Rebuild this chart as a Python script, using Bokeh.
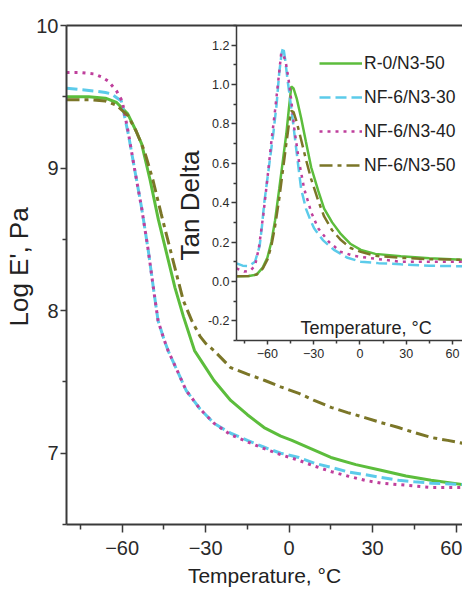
from bokeh.plotting import figure
from bokeh.models import (LinearAxis, FixedTicker, Legend, LegendItem, Label, Title,
                          NumeralTickFormatter, Range1d)
from bokeh.layouts import column
from bokeh.embed import file_html
from bokeh.resources import INLINE

# ---------------- data: main plot (Log E') ----------------
r0_T = [-80, -72, -66, -62, -58, -55, -53, -50, -47, -44, -41, -38, -34, -30, -27, -21,
        -15, -9, -3, 1, 8, 15, 24, 33, 42, 51, 62.3]
r0_E = [9.50, 9.50, 9.49, 9.46, 9.38, 9.26, 9.17, 8.92, 8.64, 8.40, 8.16, 7.96, 7.72, 7.60,
        7.51, 7.37, 7.27, 7.18, 7.12, 7.09, 7.03, 6.97, 6.92, 6.88, 6.84, 6.81, 6.78]

n30_T = [-80, -75, -70, -66, -63.9, -60.3, -57.8, -55.6, -53, -50.6, -48.5, -47.1, -45, -43.5,
         -40, -37, -32, -27, -21, -15, -8.7, -3, 3.5, 9, 15.3, 21, 27.2, 33, 39.3, 45, 51.1, 62.3]
n30_E = [9.56, 9.55, 9.54, 9.53, 9.52, 9.47, 9.24, 9.00, 8.72, 8.42, 8.12, 7.93, 7.80, 7.72,
         7.57, 7.44, 7.31, 7.21, 7.14, 7.09, 7.04, 7.00, 6.97, 6.93, 6.90, 6.87, 6.85, 6.83,
         6.81, 6.80, 6.79, 6.78]

n40_T = [-80, -75, -70, -67.5, -65, -62, -60, -57.8, -55.6, -53, -50.6, -48.5, -47.1, -45,
         -43.5, -40, -37, -32, -27, -21, -15, -8.7, -3, 3.5, 9, 15.3, 21, 27.2, 33, 39.3, 45,
         51.1, 62.3]
n40_E = [9.67, 9.67, 9.66, 9.64, 9.61, 9.54, 9.47, 9.25, 9.00, 8.72, 8.42, 8.12, 7.93, 7.80,
         7.72, 7.57, 7.44, 7.31, 7.21, 7.13, 7.08, 7.03, 6.99, 6.95, 6.91, 6.87, 6.84, 6.81,
         6.79, 6.78, 6.77, 6.76, 6.76]

n50_T = [-80, -72, -66, -62, -58, -55, -52, -49, -46, -43, -40, -38, -35, -32, -30, -27, -21,
         -15, -8.7, -3, 3.5, 9, 15.3, 21, 27.2, 33, 39.3, 45, 51.1, 57, 62.3]
n50_E = [9.48, 9.48, 9.47, 9.44, 9.37, 9.26, 9.12, 8.92, 8.68, 8.45, 8.22, 8.07, 7.93, 7.82,
         7.77, 7.72, 7.60, 7.555, 7.51, 7.465, 7.42, 7.37, 7.32, 7.285, 7.25, 7.215, 7.18,
         7.145, 7.11, 7.09, 7.07]

# ---------------- data: inset (Tan Delta) ----------------
r0_tT = [-80, -72, -67, -63, -60, -57.4, -55, -52.3, -50, -47.7, -46, -44.5, -43, -41, -38.1,
         -35, -31.6, -27, -23.2, -18, -12.3, -6, 0.6, 10, 26.5, 45, 66.5]
r0_tD = [0.026, 0.028, 0.035, 0.07, 0.12, 0.20, 0.31, 0.47, 0.61, 0.75, 0.88, 0.99, 0.98,
         0.93, 0.83, 0.71, 0.58, 0.46, 0.37, 0.30, 0.24, 0.19, 0.16, 0.14, 0.128, 0.118, 0.11]

n30_tT = [-80, -76, -72, -68, -65, -63.5, -62, -59, -56, -54, -52.3, -50.7, -49.7, -48.5, -47,
          -44.5, -42, -40, -38.1, -35, -32, -29.7, -24, -16.8, -8, 0.6, 12, 26.5, 45, 66.5]
n30_tD = [0.092, 0.08, 0.078, 0.10, 0.18, 0.28, 0.40, 0.58, 0.76, 0.90, 1.06, 1.16, 1.19,
          1.13, 1.03, 0.88, 0.72, 0.59, 0.47, 0.37, 0.31, 0.27, 0.21, 0.16, 0.12, 0.10, 0.093,
          0.087, 0.08, 0.077]

n40_tT = [-80, -75, -71, -68, -65.5, -62.6, -60, -57.4, -55, -52.9, -51, -49.5, -48, -46.5,
          -44.5, -42.6, -39.5, -36.1, -31.5, -27.1, -20, -12.3, -4, 5.2, 26.5, 45, 66.5]
n40_tD = [0.066, 0.05, 0.055, 0.08, 0.17, 0.34, 0.52, 0.71, 0.87, 1.02, 1.16, 1.15, 1.11,
          1.04, 0.92, 0.78, 0.61, 0.47, 0.35, 0.27, 0.20, 0.15, 0.13, 0.12, 0.10, 0.10, 0.10]

n50_tT = [-80, -72, -67, -63, -60, -57.4, -55, -52.3, -50, -47.7, -46, -44.5, -43, -41, -38.1,
          -35, -31.6, -27, -23.2, -18, -12.3, -6, 0.6, 10, 26.5, 45, 66.5]
n50_tD = [0.026, 0.028, 0.035, 0.065, 0.11, 0.18, 0.28, 0.42, 0.56, 0.70, 0.80, 0.867, 0.86,
          0.81, 0.72, 0.62, 0.52, 0.41, 0.33, 0.26, 0.21, 0.17, 0.15, 0.13, 0.12, 0.113, 0.11]

labels = ["R-0/N3-50", "NF-6/N3-30", "NF-6/N3-40", "NF-6/N3-50"]
colors = ["#5cbd3c", "#5ccbea", "#bf3f9c", "#7b7628"]
dashes = ["solid", "11 5", "3 5", "13 5 4 5"]

main_ticks = [-60, -30, 0, 30, 60]
main_minor = [-75, -45, -15, 15, 45]
e_ticks = [7, 8, 9, 10]
e_minor = [6.5, 7.5, 8.5, 9.5]
td_ticks = [-0.2, 0.0, 0.2, 0.4, 0.6, 0.8, 1.0, 1.2]
td_minor = [-0.3, -0.1, 0.1, 0.3, 0.5, 0.7, 0.9, 1.1, 1.3]

FONT = "Liberation Sans"
AX = "#3a3a3a"
TXT = "#222222"


def style_axis(ax, font_size, tick_out, minor_out, standoff):
    ax.axis_line_color = AX
    ax.axis_line_width = 2
    ax.major_tick_line_color = AX
    ax.major_tick_line_width = 1.5
    ax.minor_tick_line_color = AX
    ax.minor_tick_line_width = 1.5
    ax.major_tick_out = tick_out
    ax.major_tick_in = 0
    ax.minor_tick_out = minor_out
    ax.minor_tick_in = 0
    ax.major_label_text_font = FONT
    ax.major_label_text_font_size = font_size
    ax.major_label_text_color = "#2a2a2a"
    ax.major_label_standoff = standoff
    ax.axis_label_text_font = FONT
    ax.axis_label_text_font_style = "normal"
    ax.axis_label_text_color = TXT


def side_title(text, size, offset, standoff):
    return Title(text=text, align="left", offset=offset, standoff=standoff,
                 text_font=FONT, text_font_size=size, text_font_style="normal",
                 text_color=TXT)


# ---------------- main figure ----------------
p = figure(width=462, height=598, x_range=Range1d(-80, 62.3), y_range=Range1d(6.5, 10),
           output_backend="svg", toolbar_location=None,
           min_border_left=66, min_border_right=0, min_border_top=25, min_border_bottom=74,
           x_axis_label="Temperature, °C")
p.outline_line_color = None
p.grid.visible = False
p.background_fill_color = "white"

p.xaxis.ticker = FixedTicker(ticks=main_ticks, minor_ticks=main_minor)
p.yaxis.ticker = FixedTicker(ticks=e_ticks, minor_ticks=e_minor)
for ax in p.xaxis:
    style_axis(ax, "20px", 8, 5, 8)
    ax.axis_label_text_font_size = "21px"
    ax.axis_label_standoff = 6
for ax in p.yaxis:
    style_axis(ax, "20px", 6, 4, 2)

top = LinearAxis(ticker=FixedTicker(ticks=[]), axis_line_color=AX, axis_line_width=2,
                 major_tick_line_color=None, minor_tick_line_color=None,
                 major_label_text_font_size="0px")
p.add_layout(top, "above")
p.add_layout(side_title("Log E', Pa", "26px", 198, 0), "left")

main_series = [(r0_T, r0_E), (n30_T, n30_E), (n40_T, n40_E), (n50_T, n50_E)]
for (xs, ys), c, d in zip(main_series, colors, dashes):
    p.line(xs, ys, line_color=c, line_width=3, line_dash=d)

# ---------------- inset figure ----------------
q = figure(width=292, height=347, x_range=Range1d(-80, 66.5), y_range=Range1d(-0.3, 1.3),
           output_backend="svg", toolbar_location=None,
           min_border_left=64, min_border_right=0, min_border_top=8, min_border_bottom=24)
q.outline_line_color = None
q.grid.visible = False
q.background_fill_alpha = 0
q.border_fill_alpha = 0
q.xaxis.ticker = FixedTicker(ticks=main_ticks, minor_ticks=main_minor)
q.yaxis.ticker = FixedTicker(ticks=td_ticks, minor_ticks=td_minor)
q.yaxis.formatter = NumeralTickFormatter(format="0.0")
for ax in q.xaxis:
    style_axis(ax, "12.5px", 4, 3, 4)
    ax.axis_line_width = 1.5
for ax in q.yaxis:
    style_axis(ax, "12.5px", 5, 3, 2)
    ax.axis_line_width = 1.5
q.add_layout(side_title("Tan Delta", "26px", 80, 0), "left")

inset_series = [(r0_tT, r0_tD), (n30_tT, n30_tD), (n40_tT, n40_tD), (n50_tT, n50_tD)]
items = []
for (xs, ys), c, d, lab in zip(inset_series, colors, dashes, labels):
    r = q.line(xs, ys, line_color=c, line_width=2.5, line_dash=d)
    items.append(LegendItem(label=lab, renderers=[r]))

leg = Legend(items=items, location=(83, 158), background_fill_alpha=0, border_line_color=None,
             padding=0, margin=0, spacing=0, label_height=34, glyph_height=34, glyph_width=43,
             label_standoff=2, label_text_font=FONT, label_text_font_size="17.5px",
             label_text_color=TXT)
q.add_layout(leg)

q.add_layout(Label(x=4, y=-0.239, text="Temperature, °C", text_align="center",
                   text_baseline="alphabetic", text_font=FONT, text_font_size="18px",
                   text_color=TXT))

q.styles = {"position": "absolute", "left": "170px", "top": "17px"}

layout = column(p, q)
layout.styles = {"position": "relative"}
open("out.html", "w").write(file_html(layout, INLINE))
